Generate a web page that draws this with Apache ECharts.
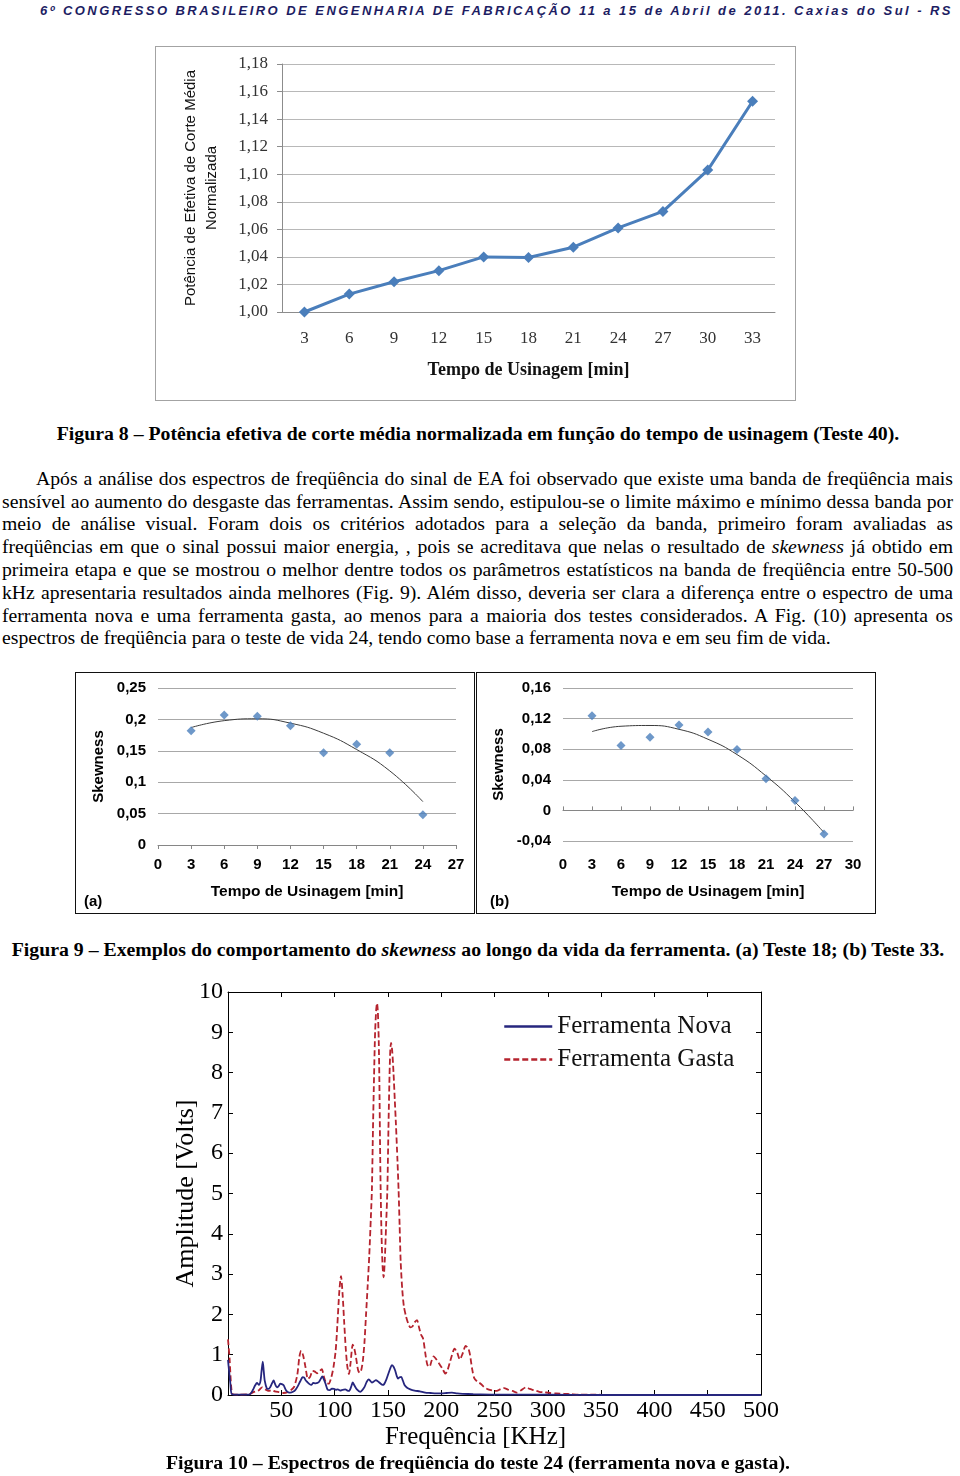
<!DOCTYPE html>
<html><head><meta charset="utf-8">
<script src="https://cdn.jsdelivr.net/npm/echarts@6/dist/echarts.min.js"></script>
<style>
html,body{margin:0;padding:0;background:#fff;}
body{width:960px;height:1476px;position:relative;overflow:hidden;font-family:'Liberation Serif',serif;color:#000;}
.abs{position:absolute;}
.hdr{left:40px;top:3px;font:italic bold 13px 'Liberation Sans',sans-serif;color:#1d1d63;white-space:nowrap;line-height:16px;}
.cap{left:0;width:956px;text-align:center;font-weight:bold;font-size:19.8px;line-height:22px;white-space:nowrap;}
.pl{font-size:19.7px;line-height:22px;height:22px;white-space:nowrap;}
.frame{box-sizing:border-box;}
</style></head><body>

<div class="abs hdr" id="hdr">6º CONGRESSO BRASILEIRO DE ENGENHARIA DE FABRICAÇÃO 11 a 15 de Abril de 2011. Caxias do Sul - RS</div>

<div class="abs frame" style="left:155px;top:46px;width:641px;height:355px;border:1.5px solid #a3a3a3;"></div>
<div class="abs" id="fig8" style="left:155px;top:46px;width:641px;height:355px;"></div>

<div class="abs cap" style="top:422px;">Figura 8 – Potência efetiva de corte média normalizada em função do tempo de usinagem (Teste 40).</div>

<div class="abs pl" style="left:36px;top:467px;"><span class="pj" data-w="917">Após a análise dos espectros de freqüência do sinal de EA foi observado que existe uma banda de freqüência mais</span></div>
<div class="abs pl" style="left:2px;top:490px;"><span class="pj" data-w="951">sensível ao aumento do desgaste das ferramentas. Assim sendo, estipulou-se o limite máximo e mínimo dessa banda por</span></div>
<div class="abs pl" style="left:2px;top:512px;"><span class="pj" data-w="951">meio de análise visual. Foram dois os critérios adotados para a seleção da banda, primeiro foram avaliadas as</span></div>
<div class="abs pl" style="left:2px;top:535px;"><span class="pj" data-w="951">freqüências em que o sinal possui maior energia, , pois se acreditava que nelas o resultado de <i>skewness</i> já obtido em</span></div>
<div class="abs pl" style="left:2px;top:558px;"><span class="pj" data-w="951">primeira etapa e que se mostrou o melhor dentre todos os parâmetros estatísticos na banda de freqüência entre 50-500</span></div>
<div class="abs pl" style="left:2px;top:581px;"><span class="pj" data-w="951">kHz apresentaria resultados ainda melhores (Fig. 9). Além disso, deveria ser clara a diferença entre o espectro de uma</span></div>
<div class="abs pl" style="left:2px;top:604px;"><span class="pj" data-w="951">ferramenta nova e uma ferramenta gasta, ao menos para a maioria dos testes considerados. A Fig. (10) apresenta os</span></div>
<div class="abs pl" style="left:2px;top:626px;"><span>espectros de freqüência para o teste de vida 24, tendo como base a ferramenta nova e em seu fim de vida.</span></div>

<div class="abs frame" style="left:75px;top:672px;width:400px;height:242px;border:1.5px solid #111;"></div>
<div class="abs frame" style="left:476px;top:672px;width:400px;height:242px;border:1.5px solid #111;"></div>
<div class="abs" id="fig9a" style="left:75px;top:672px;width:400px;height:242px;"></div>
<div class="abs" id="fig9b" style="left:476px;top:672px;width:400px;height:242px;"></div>

<div class="abs cap" style="top:938px;">Figura 9 – Exemplos do comportamento do <i>skewness</i> ao longo da vida da ferramenta. (a) Teste 18; (b) Teste 33.</div>

<div class="abs" id="fig10" style="left:160px;top:982px;width:640px;height:470px;"></div>

<div class="abs cap" style="top:1451px;">Figura 10 – Espectros de freqüência do teste 24 (ferramenta nova e gasta).</div>

<script>
// ---------- DATA ----------
// Figura 8
const fig8Times = ['3','6','9','12','15','18','21','24','27','30','33'];
const fig8Power = [1.000,1.013,1.022,1.030,1.040,1.0395,1.047,1.061,1.073,1.103,1.153];

// Figura 9 (a) Teste 18
const fig9aTime = [3,6,9,12,15,18,21,24];
const fig9aSkew = [0.182,0.207,0.205,0.190,0.147,0.1605,0.147,0.048];
const fig9aTrendTime = [3,6,9,12,15,18,21,24];
const fig9aTrend = [0.187,0.198,0.201,0.194,0.178,0.152,0.118,0.069];

// Figura 9 (b) Teste 33
const fig9bTime = [3,6,9,12,15,18,21,24,27];
const fig9bSkew = [0.1237,0.085,0.0956,0.1116,0.1025,0.0795,0.0413,0.013,-0.031];
const fig9bTrendTime = [3,6,9,12,15,18,21,24,27];
const fig9bTrend = [0.103,0.110,0.111,0.106,0.093,0.073,0.045,0.011,-0.029];

// Figura 10 - Ferramenta Nova
const fig10NovaFreq = [0,1,2.2,3.7,10,20,22,24,25.5,27.2,29,30.5,31.5,32.6,33.5,34.5,36.5,38,39.7,41.5,42.8,44,45.9,47.5,49,50.5,52.2,54.4,56.5,58.4,61,63.1,65.5,67.8,70,71.5,73,74.5,76.5,78.1,80,82,84,85.5,87,88.5,90,91.5,93.5,95.5,97.5,99.5,101.2,103,105.3,107.5,110,112,113.5,115.5,117,118.5,120.9,124,126,128.1,130,131.9,133.5,135,137,138.8,140.5,142.8,145,146.5,148.5,150.6,152.5,153.7,155.3,156.9,158.3,159.5,161,162.5,164,165.6,168,171,175,180,185,190,195,200,205,210,215,220,230,250,300,350,500];
const fig10NovaAmp  = [0.87,0.6,0.29,0.02,0.01,0.01,0.06,0.16,0.24,0.3,0.25,0.35,0.6,0.83,0.6,0.35,0.16,0.15,0.2,0.3,0.36,0.28,0.19,0.22,0.28,0.27,0.24,0.12,0.07,0.06,0.08,0.12,0.22,0.34,0.44,0.43,0.36,0.32,0.27,0.25,0.3,0.29,0.3,0.33,0.4,0.46,0.38,0.28,0.13,0.12,0.16,0.15,0.13,0.14,0.11,0.13,0.14,0.11,0.1,0.2,0.31,0.24,0.14,0.08,0.12,0.2,0.32,0.39,0.35,0.31,0.34,0.37,0.34,0.29,0.25,0.27,0.38,0.54,0.68,0.74,0.7,0.6,0.47,0.41,0.44,0.45,0.36,0.25,0.18,0.14,0.11,0.09,0.06,0.05,0.04,0.04,0.05,0.06,0.04,0.03,0.02,0.01,0.01,0.0,0.0];

// Figura 10 - Ferramenta Gasta
const fig10GastaFreq = [0,1.5,3,4.5,10,20,23,26,29,32,35,38,41,44,48,52,56,59,62,65,67,68.7,70.5,72.5,75,77,79.3,81.5,83.5,86,88,90,92,94.4,97,99,101,102.5,104.5,106,107.5,109,110.6,112,113.5,115,117,118.5,120,122,123.5,125,126.5,128,129.5,131,132.5,134,135,136,137,138,139,139.8,140.6,141.4,142,142.6,143.2,144,145,146,147,148.3,149.5,150.5,151.5,152.3,153,154,155.3,156.5,157.5,159,160,161,162,163.5,165,167,169,171,173,175,177.3,179,181,183,185,187,189,191,193,195,198,201,204,206,208,210,212.5,215,217.5,220,223,225.5,227,229,231,234,237,240,244,248,252,256,259,263,267,271,275,279.5,283,287,292,296,302,308,315,322,330,340,360,400,450,500];
const fig10GastaAmp  = [1.38,0.9,0.2,0.02,0.01,0.02,0.06,0.09,0.12,0.19,0.14,0.1,0.12,0.09,0.07,0.05,0.07,0.12,0.2,0.5,0.95,1.1,0.98,0.72,0.4,0.45,0.6,0.58,0.54,0.6,0.64,0.45,0.3,0.28,0.45,0.7,1.1,1.7,2.6,2.95,2.5,1.8,1.1,0.7,0.52,0.8,1.25,1.15,0.95,0.62,0.55,0.62,0.85,1.3,2.0,2.7,3.45,4.4,5.1,6.6,7.9,9.0,9.55,9.72,9.5,8.8,7.8,6.3,5.1,4.0,3.2,2.92,3.3,4.2,5.1,6.6,7.9,8.6,8.74,8.55,7.98,7.3,6.74,5.8,5.1,4.2,3.3,2.6,2.2,1.95,1.78,1.68,1.7,1.8,1.86,1.7,1.5,1.4,1.05,0.75,0.7,0.85,0.96,0.9,0.78,0.66,0.53,0.62,0.8,0.98,1.15,1.05,0.88,1.02,1.22,1.15,1.0,0.65,0.42,0.33,0.28,0.2,0.14,0.11,0.1,0.15,0.17,0.13,0.1,0.06,0.12,0.19,0.15,0.12,0.08,0.07,0.05,0.04,0.03,0.02,0.01,0.01,0.0,0.0,0.0,0.0];

// ---------- TEXT LAYOUT HELPERS ----------
(function(){
  document.querySelectorAll('.pj').forEach(function(s){
    s.style.display='inline-block';
    var target=parseFloat(s.dataset.w);
    var w=s.getBoundingClientRect().width;
    var n=(s.textContent.match(/ /g)||[]).length;
    if(n>0){ s.style.wordSpacing=((target-w)/n)+'px'; }
  });
  var h=document.getElementById('hdr');
  var w=h.getBoundingClientRect().width;
  var n=h.textContent.length;
  h.style.letterSpacing=((913-w)/n)+'px';
})();

const comma = v => String(parseFloat(v.toFixed(4))).replace('.', ',');
const SANS = 'Liberation Sans', SERIF = 'Liberation Serif';

// ---------- FIGURA 8 ----------
const c8 = echarts.init(document.getElementById('fig8'), null, {renderer:'canvas'});
c8.setOption({
  animation:false,
  grid:{left:127,top:18,right:21,bottom:89,outerBoundsMode:'none',containLabel:false},
  xAxis:{type:'category',data:fig8Times,boundaryGap:true,
    axisLine:{lineStyle:{color:'#8c8c8c',width:1}},axisTick:{show:false},
    axisLabel:{fontFamily:SERIF,fontSize:17,color:'#333',margin:18},
    name:'Tempo de Usinagem [min]',nameLocation:'middle',nameGap:49,
    nameTextStyle:{fontFamily:SERIF,fontSize:18,fontWeight:'bold',color:'#111'}},
  yAxis:{type:'value',min:1.0,max:1.18,interval:0.02,
    axisLine:{show:true,lineStyle:{color:'#8c8c8c'}},
    axisTick:{show:true,length:5,lineStyle:{color:'#8c8c8c'}},
    axisLabel:{formatter:v=>v.toFixed(2).replace('.',','),fontFamily:SERIF,fontSize:17,color:'#333',margin:14},
    splitLine:{lineStyle:{color:'#b8b8b8'}},
    name:'Potência de Efetiva de Corte Média\nNormalizada',nameLocation:'middle',nameGap:60,
    nameTextStyle:{fontFamily:SANS,fontSize:15,color:'#111',lineHeight:21}},
  series:[{type:'line',data:fig8Power,symbol:'diamond',symbolSize:11,
    lineStyle:{width:3,color:'#4a7ebb'},itemStyle:{color:'#4a7ebb'}}]
});

// ---------- FIGURA 9 ----------
function skewChart(id, opt){
  const c = echarts.init(document.getElementById(id), null, {renderer:'canvas'});
  const xAxes = [{type:'value',min:0,max:opt.xmax,interval:3,position:'bottom',
      axisLine:{show:!opt.zeroAxis,onZero:false,lineStyle:{color:'#868686'}},
      axisTick:{show:!opt.zeroAxis,length:4,lineStyle:{color:'#868686'}},
      splitLine:{show:false},
      axisLabel:{fontFamily:SANS,fontWeight:'bold',fontSize:15,color:'#000',margin:opt.xmargin},
      name:'Tempo de Usinagem [min]',nameLocation:'middle',nameGap:opt.xgap,
      nameTextStyle:{fontFamily:SANS,fontWeight:'bold',fontSize:15.5,color:'#000'}}];
  if(opt.zeroAxis){
    xAxes.push({type:'value',min:0,max:opt.xmax,interval:3,position:'top',
      axisLine:{show:true,onZero:true,lineStyle:{color:'#868686'}},
      axisTick:{show:true,length:4,lineStyle:{color:'#868686'}},
      axisLabel:{show:false},splitLine:{show:false}});
  }
  c.setOption({
    animation:false,
    grid:Object.assign({outerBoundsMode:'none',containLabel:false},opt.grid),
    xAxis:xAxes,
    yAxis:{type:'value',min:opt.ymin,max:opt.ymax,interval:opt.yint,
      axisLine:{show:false},axisTick:{show:false},
      axisLabel:{formatter:comma,fontFamily:SANS,fontWeight:'bold',fontSize:15,color:'#000',margin:12},
      splitLine:{lineStyle:{color:'#a8a8a8'}},
      name:'Skewness',nameLocation:'middle',nameGap:opt.ygap,
      nameTextStyle:{fontFamily:SANS,fontWeight:'bold',fontSize:15,color:'#000'}},
    graphic:[{type:'text',left:opt.tagX,top:222,style:{text:opt.tag,font:'bold 15px "Liberation Sans"',fill:'#000'}}],
    series:[
      {type:'line',data:opt.trendX.map((t,i)=>[t,opt.trendY[i]]),smooth:true,symbol:'none',
        lineStyle:{width:1,color:'#3c3c3c'},z:2},
      {type:'scatter',data:opt.x.map((t,i)=>[t,opt.y[i]]),symbol:'diamond',symbolSize:9,
        itemStyle:{color:'#4a7ebb'},z:3}
    ]
  });
}
skewChart('fig9a',{grid:{left:83,top:16,right:19,bottom:69},xmax:27,ymin:0,ymax:0.25,yint:0.05,
  xmargin:12,xgap:39,ygap:52,tag:'(a)',tagX:9,zeroAxis:false,
  x:fig9aTime,y:fig9aSkew,trendX:fig9aTrendTime,trendY:fig9aTrend});
skewChart('fig9b',{grid:{left:87,top:16,right:23,bottom:73},xmax:30,ymin:-0.04,ymax:0.16,yint:0.04,
  xmargin:16,xgap:43,ygap:57,tag:'(b)',tagX:14,zeroAxis:true,
  x:fig9bTime,y:fig9bSkew,trendX:fig9bTrendTime,trendY:fig9bTrend});

// ---------- FIGURA 10 ----------
const c10 = echarts.init(document.getElementById('fig10'), null, {renderer:'canvas'});
const frameAxis = {lineStyle:{color:'#000',width:1}};
c10.setOption({
  animation:false,
  grid:{left:68,top:10,right:39,bottom:57,outerBoundsMode:'none',containLabel:false},
  legend:{data:['Ferramenta Nova','Ferramenta Gasta'],orient:'vertical',left:338,top:27,
    itemWidth:48,itemHeight:12,itemGap:8,
    itemStyle:{opacity:0},lineStyle:{width:2.5},
    textStyle:{fontFamily:SERIF,fontSize:25,color:'#111'}},
  xAxis:[
    {type:'value',min:0,max:500,interval:50,position:'bottom',
      axisLine:{show:true,onZero:false,...frameAxis},
      axisTick:{show:true,inside:true,length:5,lineStyle:{color:'#000'}},
      axisLabel:{fontFamily:SERIF,fontSize:24,color:'#000',margin:4,showMinLabel:false},
      splitLine:{show:false},
      name:'Frequência [KHz]',nameLocation:'middle',nameGap:30,nameMoveOverlap:false,
      nameTextStyle:{fontFamily:SERIF,fontSize:25,color:'#000',padding:[0,38,0,0]}},
    {type:'value',min:0,max:500,interval:50,position:'top',
      axisLine:{show:true,onZero:false,...frameAxis},
      axisTick:{show:true,inside:true,length:5,lineStyle:{color:'#000'}},
      axisLabel:{show:false},splitLine:{show:false}}
  ],
  yAxis:[
    {type:'value',min:0,max:10,interval:1,position:'left',
      axisLine:{show:true,onZero:false,...frameAxis},
      axisTick:{show:true,inside:true,length:5,lineStyle:{color:'#000'}},
      axisLabel:{fontFamily:SERIF,fontSize:24,color:'#000',margin:5},
      splitLine:{show:false},
      name:'Amplitude [Volts]',nameLocation:'middle',nameGap:29,nameMoveOverlap:false,
      nameTextStyle:{fontFamily:SERIF,fontSize:26,color:'#000'}},
    {type:'value',min:0,max:10,interval:1,position:'right',
      axisLine:{show:true,onZero:false,...frameAxis},
      axisTick:{show:true,inside:true,length:5,lineStyle:{color:'#000'}},
      axisLabel:{show:false},splitLine:{show:false}}
  ],
  series:[
    {name:'Ferramenta Nova',type:'line',data:fig10NovaFreq.map((f,i)=>[f,fig10NovaAmp[i]]),
      symbol:'none',smooth:0.25,lineStyle:{width:1.8,color:'#26267e'},itemStyle:{color:'#26267e'},z:3},
    {name:'Ferramenta Gasta',type:'line',data:fig10GastaFreq.map((f,i)=>[f,fig10GastaAmp[i]]),
      symbol:'none',smooth:0.25,lineStyle:{width:1.8,color:'#b5232e',type:[6,3]},itemStyle:{color:'#b5232e'},z:2}
  ]
});
</script>
</body></html>
